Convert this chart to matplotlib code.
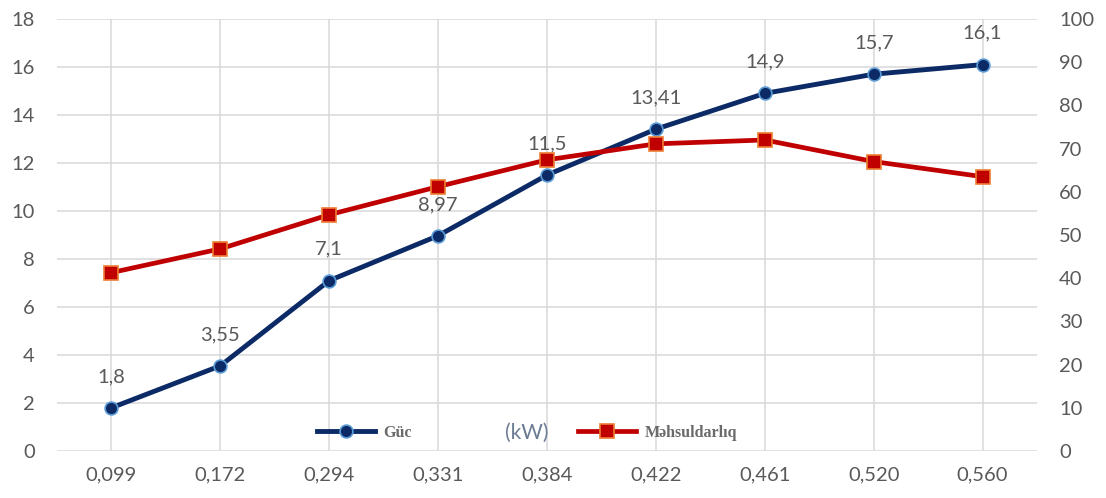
import matplotlib
matplotlib.use("Agg")
import matplotlib.pyplot as plt
from matplotlib.lines import Line2D

# Categories (flow, shown with comma decimals)
categories = ["0,099", "0,172", "0,294", "0,331", "0,384", "0,422", "0,461", "0,520", "0,560"]

# Power (kW), left axis
power = [1.8, 3.55, 7.1, 8.97, 11.5, 13.41, 14.9, 15.7, 16.1]
power_labels = ["1,8", "3,55", "7,1", "8,97", "11,5", "13,41", "14,9", "15,7", "16,1"]

# Efficiency (%), right axis
efficiency = [41.3, 46.8, 54.7, 61.2, 67.4, 71.1, 72.0, 67.0, 63.5]

left_ticks = list(range(0, 19, 2))
right_ticks = list(range(0, 101, 10))

NAVY = "#0B2A66"
NAVY_EDGE = "#5B9BD5"
RED = "#C00000"
RED_EDGE = "#ED7D31"
GRAY_TEXT = "#595959"
GRID = "#D9D9D9"

plt.rcParams["font.family"] = ["Lato", "DejaVu Sans"]

fig = plt.figure(figsize=(11.06, 4.98), dpi=100)
ax = fig.add_axes([57 / 1106, 1 - 451 / 498, (1037 - 57) / 1106, (451 - 19) / 498])
ax2 = ax.twinx()

x = list(range(len(categories)))

ax.plot(x, power, color=NAVY, lw=3.5, marker="o", ms=9.2,
        mfc=NAVY, mec=NAVY_EDGE, mew=1.2, zorder=3, solid_capstyle="round")
ax2.plot(x, efficiency, color=RED, lw=3.4, marker="s", ms=9.4,
         mfc=RED, mec=RED_EDGE, mew=1.2, zorder=3)

for xi, yi, lab in zip(x, power, power_labels):
    ax.annotate(lab, (xi, yi), xytext=(0, 22.5), textcoords="offset points",
                ha="center", va="center", fontsize=14.5, color=GRAY_TEXT)

ax.set_xlim(-0.5, len(categories) - 0.5)
ax.set_ylim(0, 18)
ax2.set_ylim(0, 100)
ax.set_xticks(x)
ax.set_xticklabels(categories)
ax.set_yticks(left_ticks)
ax2.set_yticks(right_ticks)

ax.grid(True, color=GRID, lw=1.1)
ax.set_axisbelow(True)

for a in (ax, ax2):
    for s in a.spines.values():
        s.set_visible(False)
    a.tick_params(length=0, labelsize=14.5, labelcolor=GRAY_TEXT)
ax.tick_params(axis="y", pad=16)
ax2.tick_params(axis="y", pad=16)
ax.tick_params(axis="x", pad=11)

# Legend with the unit shown between the two entries
handles = [
    Line2D([], [], color=NAVY, lw=3.5, marker="o", ms=9.2, mfc=NAVY, mec=NAVY_EDGE, mew=1.2),
    Line2D([], [], color=RED, lw=3.4, marker="s", ms=9.4, mfc=RED, mec=RED_EDGE, mew=1.2),
]
leg = fig.legend(handles, ["Güc", "Məhsuldarlıq"], ncol=2, frameon=False,
                 loc="center left", bbox_to_anchor=(317 / 1106, 1 - 433 / 498),
                 borderpad=0, borderaxespad=0, handlelength=3.6, handletextpad=0.55,
                 columnspacing=10.4,
                 prop={"family": "Liberation Serif", "weight": "bold", "size": 11.5})
for t in leg.get_texts():
    t.set_color("#6A6A6A")

fig.text(527 / 1106, 1 - 433 / 498, "(kW)", ha="center", va="center",
         fontsize=15, color="#6B7B93")

fig.savefig("out.png", dpi=100)
